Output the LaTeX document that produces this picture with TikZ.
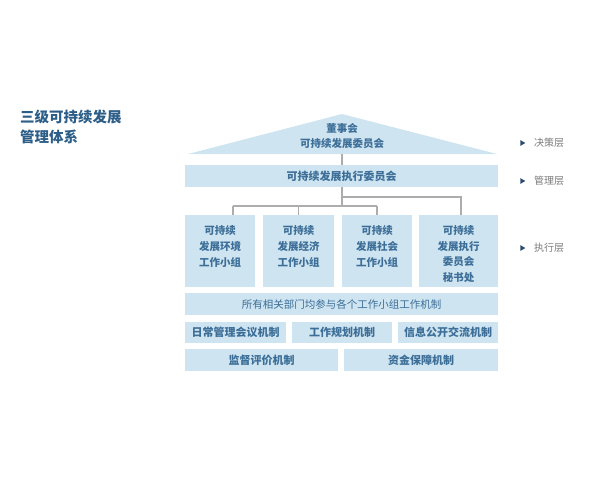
\documentclass[tikz,border=0pt]{standalone}
\usepackage{fontspec}
\newfontfamily\cjk{Noto Sans CJK SC}
\usetikzlibrary{shapes.geometric}
\definecolor{boxfill}{HTML}{CEE4F0}
\definecolor{boxtext}{HTML}{3C6E98}
\definecolor{conncol}{HTML}{ADADAD}
\definecolor{titlecol}{HTML}{2C5E88}
\definecolor{labelcol}{HTML}{7A7A7A}
\definecolor{arrowcol}{HTML}{2B4C6E}
\tikzset{
  blk/.style={fill=boxfill, inner sep=0pt, align=center, text=boxtext,
    font=\cjk\bfseries\fontsize{10.5}{15.8}\selectfont},
  conn/.style={draw=conncol, line width=1.3pt},
  lvlmark/.style={isosceles triangle, isosceles triangle apex angle=60, fill=arrowcol,
    inner sep=0pt, minimum height=5pt, minimum width=5pt},
  lvltext/.style={anchor=west, text=labelcol, inner sep=0pt,
    font=\cjk\fontsize{10}{12}\selectfont},
  titletext/.style={anchor=west, align=left, text=titlecol, inner sep=0pt,
    font=\cjk\bfseries\fontsize{14.5}{20}\selectfont},
}
\begin{document}
\begin{tikzpicture}[x=1pt,y=-1pt]
\useasboundingbox (0,0) rectangle (600,480);

% title
\node[titletext] (title) at (20,127) {三级可持续发展\\管理体系};

% roof
\fill[boxfill] (188,154) -- (342,114) -- (497,154) -- cycle;
\node[blk, fill=none, font=\cjk\bfseries\fontsize{10.5}{15}\selectfont] (board) at (342,136) {董事会\\可持续发展委员会};
\coordinate (roofbase) at (342,154);

% management bar
\node[blk, minimum width=313pt, minimum height=22pt, font=\cjk\bfseries\fontsize{11}{13}\selectfont] (exec) at (341.5,176) {可持续发展执行委员会};

% working groups
\node[blk, minimum width=70pt, minimum height=72pt] (g1) at (220,251) {\rule{0pt}{15pt}可持续\\发展环境\\工作小组\\\phantom{x}};
\node[blk, minimum width=71pt, minimum height=72pt] (g2) at (298.5,251) {\rule{0pt}{15pt}可持续\\发展经济\\工作小组\\\phantom{x}};
\node[blk, minimum width=70pt, minimum height=72pt] (g3) at (377,251) {\rule{0pt}{15pt}可持续\\发展社会\\工作小组\\\phantom{x}};
\node[blk, minimum width=79pt, minimum height=72pt] (g4) at (458.5,251) {\rule{0pt}{15pt}可持续\\发展执行\\委员会\\秘书处};

% connectors
\coordinate (j2) at (342,197);
\coordinate (k4) at (461,197);
\coordinate (j1) at (342,206);
\coordinate (k1) at (233,206);
\coordinate (k3) at (377,206);
\draw[conn] (roofbase) -- (exec.north -| roofbase);
\draw[conn] (exec.south -| j1) -- (j1);
\draw[conn] (j2) -- (k4) -- (k4 |- g4.north);
\draw[conn] (k1) -- (k3);
\draw[conn] (k1) -- (k1 |- g1.north);
\draw[conn] (g2.north |- k1) -- (g2.north);
\draw[conn] (k3) -- (k3 |- g3.north);

% mechanism bars
\node[blk, minimum width=313pt, minimum height=22pt, font=\cjk\fontsize{10.5}{12}\selectfont] (all) at (341.5,304) {所有相关部门均参与各个工作小组工作机制};
\node[blk, minimum width=101pt, minimum height=21pt, font=\cjk\bfseries\fontsize{11}{13}\selectfont] (m1) at (235.5,332.5) {日常管理会议机制};
\node[blk, minimum width=100pt, minimum height=21pt, font=\cjk\bfseries\fontsize{11}{13}\selectfont] (m2) at (342,332.5) {工作规划机制};
\node[blk, minimum width=100pt, minimum height=21pt, font=\cjk\bfseries\fontsize{11}{13}\selectfont] (m3) at (448,332.5) {信息公开交流机制};
\node[blk, minimum width=153pt, minimum height=22pt, font=\cjk\bfseries\fontsize{11}{13}\selectfont] (m4) at (261.5,360) {监督评价机制};
\node[blk, minimum width=154pt, minimum height=22pt, font=\cjk\bfseries\fontsize{11}{13}\selectfont] (m5) at (421,360) {资金保障机制};

% level labels
\node[lvlmark] (a1) at (522,143) {};
\node[lvltext] (l1) at (534,143) {决策层};
\node[lvlmark] (a2) at (522,181) {};
\node[lvltext] (l2) at (534,181) {管理层};
\node[lvlmark] (a3) at (522,248) {};
\node[lvltext] (l3) at (534,248) {执行层};
\end{tikzpicture}
\end{document}
